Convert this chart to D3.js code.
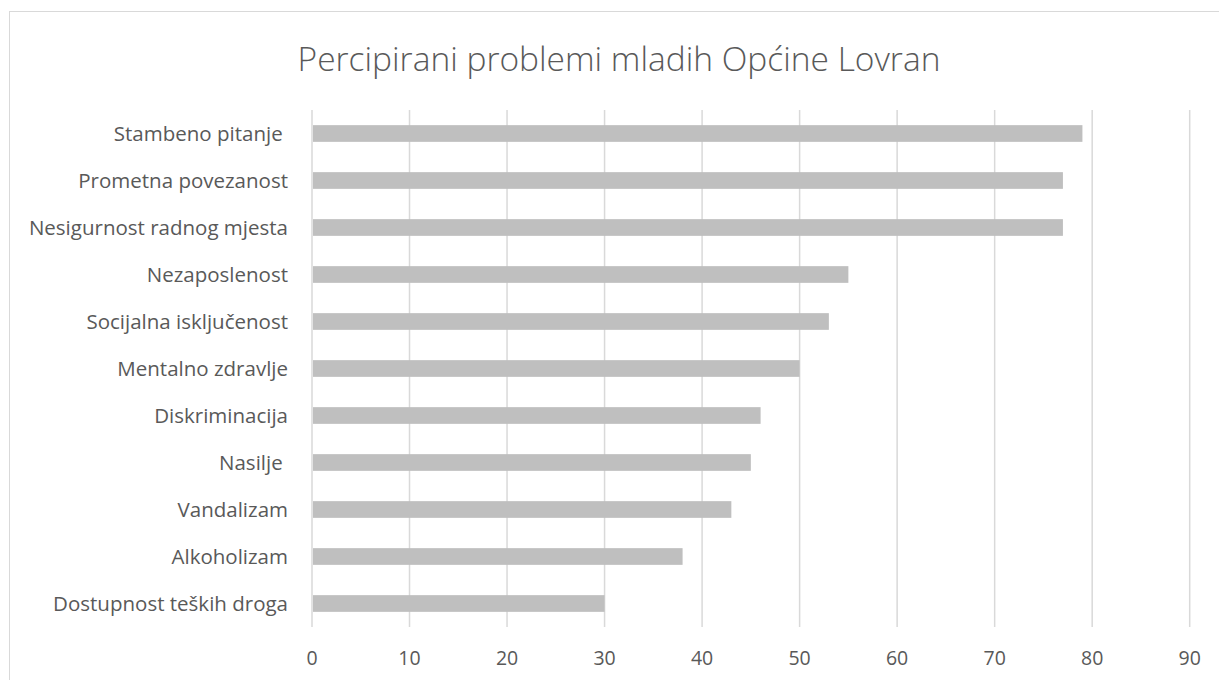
<!DOCTYPE html>
<html>
<head>
<meta charset="utf-8">
<script src="https://cdn.jsdelivr.net/npm/d3@7"></script>
<style>
  body { margin: 0; background: #fff; }
  svg text { font-family: "Open Sans", "Noto Sans", sans-serif; fill: #595959; }
</style>
</head>
<body>
<div id="chart"></div>
<script>
var categories = [
    "Stambeno pitanje ",
    "Prometna povezanost",
    "Nesigurnost radnog mjesta",
    "Nezaposlenost",
    "Socijalna isključenost",
    "Mentalno zdravlje",
    "Diskriminacija",
    "Nasilje ",
    "Vandalizam",
    "Alkoholizam",
    "Dostupnost teških droga"
];
var values = [79, 77, 77, 55, 53, 50, 46, 45, 43, 38, 30];
var ticks = [0, 10, 20, 30, 40, 50, 60, 70, 80, 90];
var title = "Percipirani problemi mladih Općine Lovran";

var w = 1219, h = 680;
var svg = d3.select("#chart").append("svg")
    .attr("width", w)
    .attr("height", h);

// chart frame (runs off right/bottom edge)
svg.append("rect")
    .attr("x", 9.5).attr("y", 11.5)
    .attr("width", w + 20).attr("height", h + 20)
    .attr("fill", "none")
    .attr("stroke", "#d9d9d9")
    .attr("stroke-width", 1);

svg.append("text")
    .attr("x", 619)
    .attr("y", 71)
    .attr("text-anchor", "middle")
    .style("font-size", "33.5px")
    .style("font-weight", "300")
    .text(title);

var x = d3.scaleLinear().domain([0, 90]).range([312, 1189.7]);
var y = d3.scaleBand().domain(categories).range([110, 627]).paddingInner(0.645).paddingOuter(0.3225);

// gridlines
svg.append("g").selectAll("line")
    .data(ticks)
    .enter()
    .append("line")
    .attr("x1", function(d) { return x(d); })
    .attr("x2", function(d) { return x(d); })
    .attr("y1", 110)
    .attr("y2", 627)
    .attr("stroke", "#d9d9d9")
    .attr("stroke-width", 1.5);

svg.append("g").selectAll("rect")
    .data(values)
    .enter()
    .append("rect")
    .attr("x", x(0) + 1)
    .attr("y", function(d, i) { return y(categories[i]); })
    .attr("width", function(d) { return x(d) - x(0) - 1; })
    .attr("height", y.bandwidth())
    .attr("fill", "#bfbfbf");

// category labels
svg.append("g").selectAll("text")
    .data(categories)
    .enter()
    .append("text")
    .attr("x", 288)
    .attr("y", function(d) { return y(d) + y.bandwidth() / 2; })
    .attr("dy", "0.35em")
    .attr("text-anchor", "end")
    .style("font-size", "20.5px")
    .style("white-space", "pre")
    .text(function(d) { return d; });

// tick labels
svg.append("g").selectAll("text")
    .data(ticks)
    .enter()
    .append("text")
    .attr("x", function(d) { return x(d); })
    .attr("y", 658)
    .attr("dy", "0.35em")
    .attr("text-anchor", "middle")
    .style("font-size", "19.5px")
    .text(function(d) { return d; });
</script>
</body>
</html>
